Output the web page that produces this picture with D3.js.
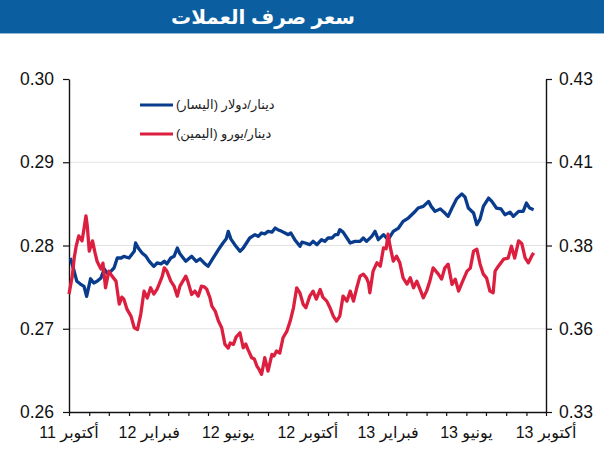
<!DOCTYPE html>
<html>
<head>
<meta charset="utf-8">
<script src="https://cdn.jsdelivr.net/npm/d3@7"></script>
<style>
  body { margin: 0; background: #fff; }
  svg { display: block; font-family: Arial, "Liberation Sans", "DejaVu Sans", sans-serif; }
</style>
</head>
<body>
<script>
const title = 'سعر صرف العملات';
const startDate = new Date(2011, 9, 1);
const endDate = new Date(2013, 9, 1);

// [days since 1 Oct 2011, dinar per dollar] (left axis)
const usdRate = [
  [2,0.2785],[8,0.2769],[12,0.2757],[17,0.2754],[23,0.2751],[27,0.2739],[33,0.2760],[38,0.2755],
  [43,0.2757],[49,0.2761],[54,0.2772],[58,0.2767],[64,0.2769],[69,0.2773],[74,0.2785],[80,0.2785],
  [84,0.2787],[92,0.2785],[100,0.2793],[102,0.2803],[107,0.2796],[112,0.2791],[118,0.2787],[123,0.2781],
  [130,0.2775],[135,0.2779],[141,0.2778],[146,0.2781],[150,0.2778],[156,0.2785],[161,0.2787],[166,0.2797],
  [170,0.2790],[179,0.2781],[188,0.2787],[195,0.2781],[201,0.2784],[207,0.2779],[213,0.2775],[221,0.2785],
  [229,0.2795],[236,0.2803],[241,0.2808],[244,0.2817],[248,0.2808],[254,0.2801],[262,0.2793],[267,0.2797],
  [272,0.2803],[277,0.2809],[285,0.2813],[290,0.2811],[295,0.2815],[300,0.2814],[305,0.2817],[311,0.2816],
  [316,0.2821],[320,0.2819],[326,0.2817],[331,0.2815],[336,0.2813],[340,0.2815],[346,0.2807],[354,0.2799],
  [357,0.2804],[362,0.2803],[369,0.2801],[374,0.2805],[380,0.2801],[387,0.2807],[392,0.2805],[397,0.2809],
  [403,0.2809],[408,0.2813],[412,0.2813],[415,0.2819],[420,0.2816],[426,0.2809],[431,0.2803],[438,0.2805],
  [446,0.2805],[451,0.2809],[456,0.2805],[464,0.2811],[469,0.2817],[474,0.2807],[482,0.2813],[489,0.2807],
  [497,0.2817],[505,0.2821],[512,0.2829],[520,0.2833],[528,0.2839],[535,0.2845],[543,0.2847],[551,0.2853],
  [555,0.2847],[561,0.2841],[569,0.2844],[576,0.2839],[581,0.2835],[587,0.2845],[594,0.2856],[602,0.2862],
  [607,0.2858],[612,0.2845],[620,0.2839],[625,0.2825],[630,0.2832],[635,0.2847],[643,0.2857],[648,0.2853],
  [655,0.2845],[662,0.2844],[668,0.2837],[676,0.2840],[681,0.2835],[689,0.2841],[696,0.2841],[701,0.2851],
  [706,0.2845],[712,0.2843]
];

// [days since 1 Oct 2011, dinar per euro] (right axis)
const eurRate = [
  [0,0.3654],[5,0.3708],[8,0.3763],[11,0.3798],[15,0.3829],[20,0.3814],[23,0.3850],[26,0.3889],
  [28,0.3859],[31,0.3783],[36,0.3814],[40,0.3777],[43,0.3753],[49,0.3729],[52,0.3747],[56,0.3673],
  [61,0.3723],[66,0.3708],[72,0.3693],[77,0.3624],[81,0.3645],[84,0.3639],[89,0.3608],[95,0.3588],
  [100,0.3553],[105,0.3548],[110,0.3594],[115,0.3663],[120,0.3642],[125,0.3673],[130,0.3654],[135,0.3669],
  [138,0.3683],[143,0.3708],[146,0.3733],[150,0.3723],[156,0.3693],[161,0.3678],[166,0.3648],[170,0.3678],
  [179,0.3708],[182,0.3693],[188,0.3653],[193,0.3663],[198,0.3648],[203,0.3678],[208,0.3675],[211,0.3669],
  [216,0.3643],[219,0.3618],[224,0.3603],[229,0.3573],[234,0.3553],[239,0.3503],[244,0.3492],[247,0.3507],
  [252,0.3503],[256,0.3525],[262,0.3538],[267,0.3493],[271,0.3504],[274,0.3489],[280,0.3463],[284,0.3459],
  [288,0.3438],[291,0.3429],[295,0.3413],[297,0.3432],[300,0.3463],[305,0.3423],[311,0.3473],[314,0.3468],
  [318,0.3483],[323,0.3477],[328,0.3523],[334,0.3543],[339,0.3573],[344,0.3613],[349,0.3673],[354,0.3657],
  [359,0.3623],[363,0.3613],[369,0.3648],[374,0.3663],[379,0.3639],[385,0.3668],[389,0.3645],[395,0.3633],
  [400,0.3613],[405,0.3588],[410,0.3573],[415,0.3588],[420,0.3648],[426,0.3633],[431,0.3663],[436,0.3633],
  [441,0.3673],[446,0.3708],[451,0.3714],[456,0.3702],[459,0.3687],[461,0.3658],[466,0.3723],[472,0.3748],
  [477,0.3738],[482,0.3793],[486,0.3790],[489,0.3834],[492,0.3798],[497,0.3753],[502,0.3768],[507,0.3748],
  [512,0.3703],[518,0.3684],[523,0.3703],[528,0.3673],[533,0.3693],[538,0.3668],[543,0.3643],[548,0.3663],
  [553,0.3693],[558,0.3733],[566,0.3714],[571,0.3699],[576,0.3733],[581,0.3744],[587,0.3683],[592,0.3699],
  [597,0.3663],[602,0.3687],[610,0.3723],[615,0.3732],[620,0.3783],[625,0.3789],[630,0.3744],[635,0.3714],
  [640,0.3702],[645,0.3663],[650,0.3658],[653,0.3723],[658,0.3738],[666,0.3759],[673,0.3762],[678,0.3798],
  [683,0.3762],[689,0.3814],[694,0.3805],[699,0.3763],[704,0.3748],[709,0.3768],[712,0.3778]
];

const leftTicks = [0.26, 0.27, 0.28, 0.29, 0.30];
const rightTicks = [0.33, 0.355, 0.38, 0.405, 0.43];
const rightTickLabels = ['0.33', '0.36', '0.38', '0.41', '0.43'];
const xLabelMonths = ['2011-10', '2012-02', '2012-06', '2012-10', '2013-02', '2013-06', '2013-10'];
const xLabels = ['أكتوبر 11', 'فبراير 12', 'يونيو 12', 'أكتوبر 12', 'فبراير 13', 'يونيو 13', 'أكتوبر 13'];
const seriesNames = ['دينار/دولار (اليسار)', 'دينار/يورو (اليمين)'];
const seriesColors = ['#093c8c', '#dc1f3f'];

const W = 604, H = 450;
const plotLeft = 69, plotRight = 546, plotTop = 79, plotBottom = 412;

const svg = d3.select('body').append('svg').attr('width', W).attr('height', H);

svg.append('rect').attr('x', 0).attr('y', 0).attr('width', W).attr('height', 33).attr('fill', '#0b5ea0');
svg.append('line').attr('x1', 0).attr('x2', W).attr('y1', 33.5).attr('y2', 33.5)
  .attr('stroke', '#8fb6d8').attr('stroke-width', 1);
svg.append('text')
  .attr('x', 263).attr('y', 24)
  .attr('text-anchor', 'middle')
  .attr('direction', 'rtl')
  .attr('fill', '#fff')
  .attr('font-size', 20)
  .attr('font-weight', 'bold')
  .text(title);

const x = d3.scaleTime().domain([startDate, endDate]).range([plotLeft, plotRight]);
const yL = d3.scaleLinear().domain([0.26, 0.30]).range([plotBottom, plotTop]);
const yR = d3.scaleLinear().domain([0.33, 0.43]).range([plotBottom, plotTop]);

// gridlines
svg.append('g').selectAll('line')
  .data(leftTicks.slice(1, -1))
  .join('line')
  .attr('x1', plotLeft).attr('x2', plotRight)
  .attr('y1', d => yL(d)).attr('y2', d => yL(d))
  .attr('stroke', '#e2e2e2').attr('stroke-width', 1);

function styleAxis(g) {
  g.select('.domain').attr('stroke', '#111').attr('stroke-width', 1.4);
  g.selectAll('.tick line').attr('stroke', '#111').attr('stroke-width', 1.2);
  g.selectAll('.tick text').attr('fill', '#111').attr('font-size', 17.5)
    .attr('font-family', 'Arial, "Liberation Sans", sans-serif');
}

svg.append('g')
  .attr('transform', `translate(${plotLeft},0)`)
  .call(d3.axisLeft(yL).tickValues(leftTicks).tickFormat(d3.format('.2f')).tickSize(6).tickPadding(9).tickSizeOuter(0))
  .call(styleAxis);

svg.append('g')
  .attr('transform', `translate(${plotRight},0)`)
  .call(d3.axisRight(yR).tickValues(rightTicks).tickFormat((d, i) => rightTickLabels[i]).tickSize(6).tickPadding(7).tickSizeOuter(0))
  .call(styleAxis);

const parseMonth = d3.timeParse('%Y-%m');
svg.append('g')
  .attr('transform', `translate(0,${plotBottom})`)
  .call(d3.axisBottom(x).ticks(d3.timeMonth.every(1)).tickSize(4).tickFormat('').tickSizeOuter(0))
  .call(styleAxis);

svg.append('g').selectAll('text')
  .data(xLabelMonths)
  .join('text')
  .attr('x', d => x(parseMonth(d)))
  .attr('y', 438)
  .attr('text-anchor', 'middle')
  .attr('direction', 'rtl')
  .attr('font-size', 16)
  .attr('fill', '#111')
  .text((d, i) => xLabels[i]);

const dayX = d => x(d3.timeDay.offset(startDate, d[0]));

svg.append('path')
  .datum(usdRate)
  .attr('fill', 'none')
  .attr('stroke', seriesColors[0])
  .attr('stroke-width', 3.3)
  .attr('stroke-linejoin', 'round')
  .attr('d', d3.line().x(dayX).y(d => yL(d[1])));

svg.append('path')
  .datum(eurRate)
  .attr('fill', 'none')
  .attr('stroke', seriesColors[1])
  .attr('stroke-width', 3.3)
  .attr('stroke-linejoin', 'round')
  .attr('d', d3.line().x(dayX).y(d => yR(d[1])));

// legend
const legend = svg.append('g');
seriesNames.forEach((name, i) => {
  const ly = 105 + i * 29;
  legend.append('line')
    .attr('x1', 140).attr('x2', 173)
    .attr('y1', ly).attr('y2', ly)
    .attr('stroke', seriesColors[i]).attr('stroke-width', 3);
  legend.append('text')
    .attr('x', 176).attr('y', ly + 4)
    .attr('direction', 'rtl')
    .attr('text-anchor', 'end')
    .attr('font-size', 13)
    .attr('fill', '#222')
    .text(name);
});
</script>
</body>
</html>
